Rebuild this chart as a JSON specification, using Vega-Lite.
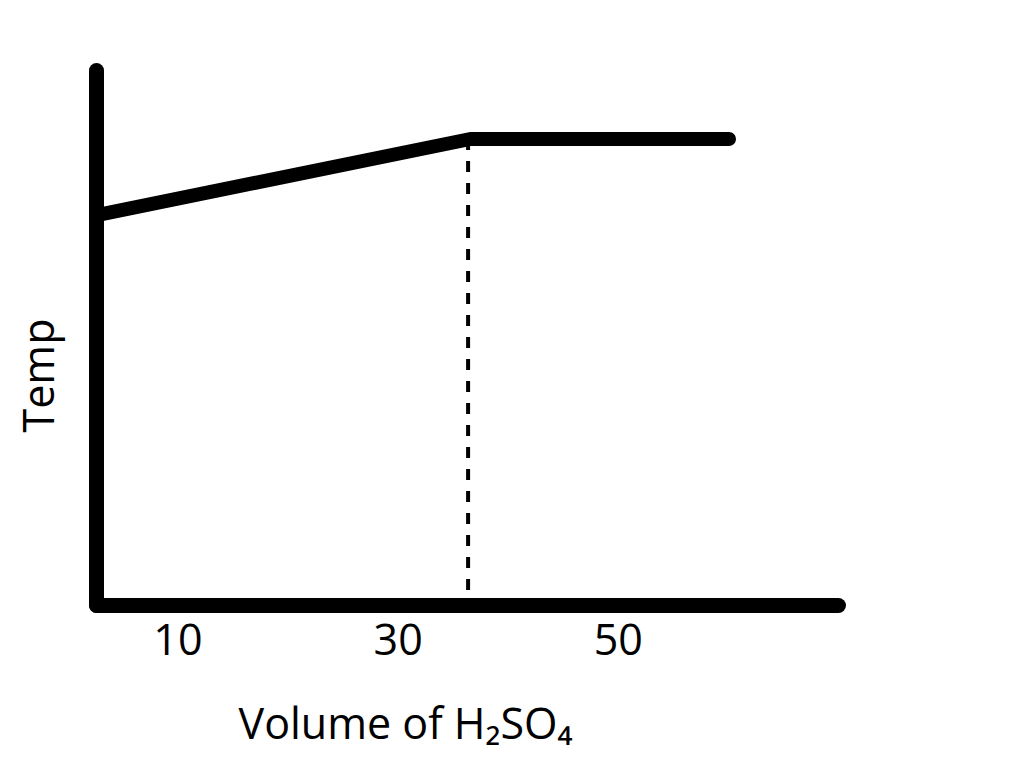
{
  "$schema": "https://vega.github.io/schema/vega-lite/v6.json",
  "autosize": "none",
  "width": 742,
  "height": 535,
  "padding": {"left": 96, "top": 70, "right": 194, "bottom": 168},
  "background": "white",
  "config": {
    "view": {"stroke": null},
    "axis": {
      "grid": false,
      "ticks": false,
      "domainColor": "black",
      "domainWidth": 15,
      "domainCap": "round",
      "labelFont": "Open Sans",
      "titleFont": "Open Sans",
      "labelColor": "black",
      "titleColor": "black",
      "titleFontWeight": "normal"
    }
  },
  "layer": [
    {
      "data": {"values": [
        {"volume": 3.24, "temp": 73.1, "seg": "line"},
        {"volume": 36.6, "temp": 87.1, "seg": "line"},
        {"volume": 60.1, "temp": 87.1, "seg": "line"}
      ]},
      "mark": {"type": "line", "color": "black", "strokeWidth": 14, "strokeCap": "round", "strokeJoin": "round"},
      "encoding": {
        "x": {
          "field": "volume", "type": "quantitative",
          "scale": {"domain": [2.6, 70], "nice": false, "zero": false},
          "axis": {
            "values": [10, 30, 50],
            "labelFontSize": 43,
            "labelPadding": 15,
            "title": "Volume of H₂SO₄",
            "titleFontSize": 43,
            "titleX": 309,
            "titleY": 133,
            "titleAlign": "center",
            "titleBaseline": "alphabetic"
          }
        },
        "y": {
          "field": "temp", "type": "quantitative",
          "scale": {"domain": [0, 100], "nice": false},
          "axis": {
            "labels": false,
            "title": "Temp",
            "titleFontSize": 43,
            "titleAngle": -90,
            "titleX": -43,
            "titleY": 305,
            "titleAlign": "center",
            "titleBaseline": "alphabetic"
          }
        }
      }
    },
    {
      "data": {"values": [
        {"volume": 36.4, "temp": 87.1, "ord": 1},
        {"volume": 36.4, "temp": 0, "ord": 2}
      ]},
      "mark": {"type": "line", "color": "black", "strokeWidth": 4, "strokeDash": [11, 11]},
      "encoding": {
        "x": {"field": "volume", "type": "quantitative"},
        "y": {"field": "temp", "type": "quantitative"},
        "order": {"field": "ord", "type": "quantitative"}
      }
    }
  ]
}
